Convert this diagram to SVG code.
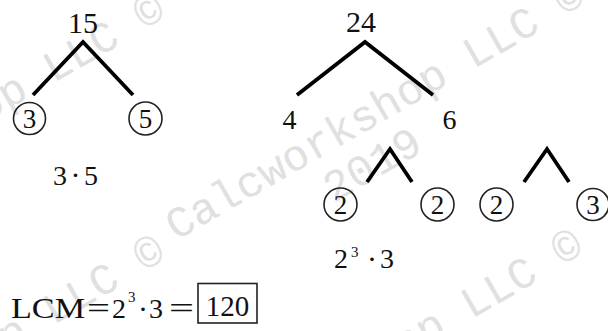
<svg xmlns="http://www.w3.org/2000/svg" width="608" height="331" viewBox="0 0 608 331">
<style>
  .t{font-family:"Liberation Serif","Times New Roman",serif;fill:#111}
  .big{font-size:30px;text-anchor:middle}
  .mid{font-size:28px;text-anchor:middle}
  .cd{font-size:27px;text-anchor:middle}
  .st{font-size:28px}
  .sup{font-size:15px}
  .dot{font-size:30px;text-anchor:middle}
  .ring{fill:none;stroke:#222;stroke-width:1.6}
  .edge{fill:none;stroke:#000;stroke-width:3.8;stroke-linejoin:miter;stroke-linecap:butt}
  .box{fill:none;stroke:#222;stroke-width:1.6}
  .wm{font-family:"Liberation Mono","Courier New",monospace;font-size:44px;fill:#e0e0e0}
</style>
<defs>
  <g id="wmtile" class="wm" transform="translate(176,241) rotate(-30)">
    <text x="0" y="0">Calcworkshop LLC ©</text>
    <text x="208" y="46" text-anchor="middle">2019</text>
  </g>
</defs>
<rect width="608" height="331" fill="#fff"/>
<g id="watermark">
  <use href="#wmtile"/>
  <use href="#wmtile" transform="translate(-420,14)"/>
  <use href="#wmtile" transform="translate(-2,250)"/>
  <use href="#wmtile" transform="translate(-420,256)"/>
</g>
<g id="connectors">
  <path class="edge" d="M33,95 L83,42 L133,95"/>
  <path class="edge" d="M297,95 L365,42 L433,95"/>
  <path class="edge" d="M367,182 L390,149 L412,182"/>
  <path class="edge" d="M524,182 L547,149 L569,182"/>
</g>
<g id="n15"><text class="t big" x="83" y="33">15</text></g>
<g id="n3a"><circle class="ring" cx="29.5" cy="118.5" r="16"/><text class="t cd" x="29.5" y="127.5">3</text></g>
<g id="n5"><circle class="ring" cx="145.5" cy="118.5" r="16.5"/><text class="t cd" x="145.5" y="127.5">5</text></g>
<g id="prod1">
  <text class="t st" x="53" y="185">3</text>
  <text class="t dot" x="75.5" y="185">·</text>
  <text class="t st" x="84" y="185">5</text>
</g>
<g id="n24"><text class="t big" x="361" y="32">24</text></g>
<g id="n4"><text class="t mid" x="289.5" y="129">4</text></g>
<g id="n6"><text class="t mid" x="449.5" y="129">6</text></g>
<g id="n2a"><circle class="ring" cx="340.5" cy="204.5" r="16.5"/><text class="t cd" x="340.5" y="213.5">2</text></g>
<g id="n2b"><circle class="ring" cx="437.5" cy="204.5" r="16.5"/><text class="t cd" x="437.5" y="213.5">2</text></g>
<g id="n2c"><circle class="ring" cx="496.5" cy="204.5" r="16.5"/><text class="t cd" x="496.5" y="213.5">2</text></g>
<g id="n3b"><circle class="ring" cx="593" cy="204.5" r="16"/><text class="t cd" x="593" y="213.5">3</text></g>
<g id="prod2">
  <text class="t st" x="334" y="268">2</text>
  <text class="t sup" x="351" y="257">3</text>
  <text class="t dot" x="372" y="269">·</text>
  <text class="t st" x="380" y="268">3</text>
</g>
<g id="lcm">
  <text class="t" style="font-size:29px" x="11" y="318" textLength="74" lengthAdjust="spacingAndGlyphs">LCM</text>
  <text class="t" style="font-size:29px" x="87" y="318" textLength="23" lengthAdjust="spacingAndGlyphs">=</text>
  <text class="t st" x="112" y="318">2</text>
  <text class="t sup" x="128" y="302">3</text>
  <text class="t dot" x="143" y="319">·</text>
  <text class="t st" x="149" y="318">3</text>
  <text class="t" style="font-size:29px" x="169" y="318" textLength="25" lengthAdjust="spacingAndGlyphs">=</text>
  <rect class="box" x="198" y="283.5" width="59" height="39.5"/>
  <text class="t" style="font-size:29px;text-anchor:middle" x="227.5" y="316">120</text>
</g>
</svg>
